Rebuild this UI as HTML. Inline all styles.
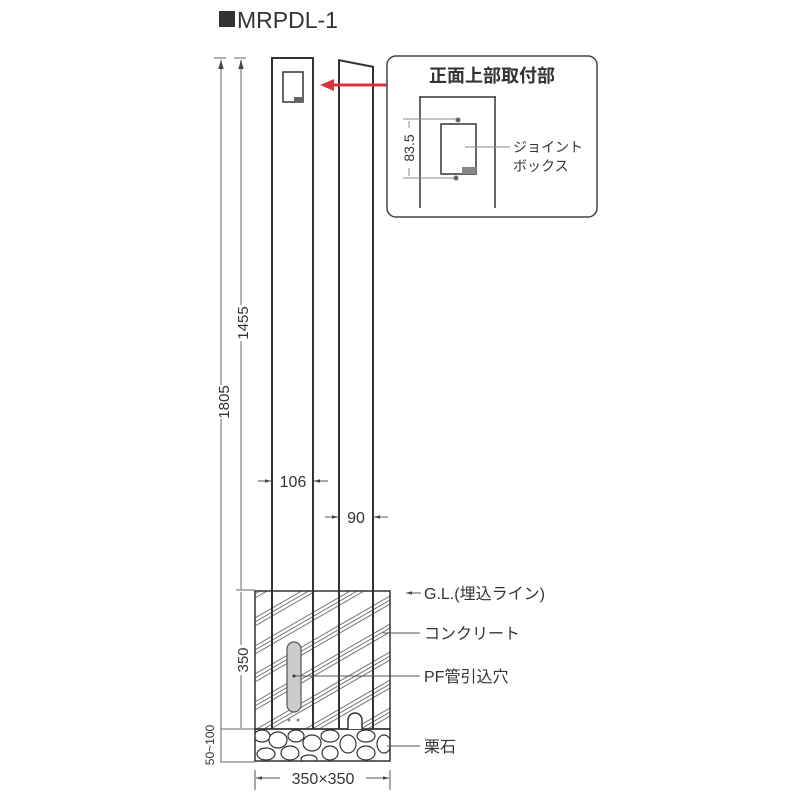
<!DOCTYPE html>
<html><head><meta charset="utf-8"><style>
html,body{margin:0;padding:0;background:#fff;}
svg{display:block;}
text{font-family:"Liberation Sans","Noto Sans CJK JP",sans-serif;fill:#333;}
</style></head><body>
<svg width="800" height="800" viewBox="0 0 800 800" xmlns="http://www.w3.org/2000/svg">
<defs>
<clipPath id="blk"><rect x="255" y="591" width="135" height="138"/></clipPath>
<clipPath id="grv"><rect x="255" y="729" width="135" height="32"/></clipPath>
<marker id="ar" viewBox="0 0 10 10" refX="10" refY="5" markerWidth="6" markerHeight="6" orient="auto-start-reverse"><path d="M0,2 L10,5 L0,8 z" fill="#444"/></marker>
</defs>
<rect x="219" y="11" width="16" height="16" fill="#333"/>
<text x="237" y="28" font-size="23" fill="#333">MRPDL-1</text>
<g stroke="#999" stroke-width="1.5" fill="none">
<line x1="221" y1="60" x2="221" y2="762" marker-start="url(#ar)"/>
<line x1="241" y1="60" x2="241" y2="590" marker-start="url(#ar)"/>
<line x1="241" y1="592" x2="241" y2="728"/>
<line x1="215" y1="729" x2="255" y2="729"/>
<line x1="215" y1="762" x2="255" y2="762"/>
<line x1="236" y1="590" x2="255" y2="590"/>
<line x1="214" y1="58" x2="226" y2="58"/>
<line x1="234" y1="58" x2="246" y2="58"/>
</g>
<rect x="214" y="385" width="16" height="34" fill="#fff"/>
<text transform="translate(229,402) rotate(-90)" font-size="15" text-anchor="middle">1805</text>
<rect x="234" y="305" width="16" height="36" fill="#fff"/>
<text transform="translate(248,323) rotate(-90)" font-size="15" text-anchor="middle">1455</text>
<rect x="234" y="645" width="16" height="30" fill="#fff"/>
<text transform="translate(248,660) rotate(-90)" font-size="15" text-anchor="middle">350</text>
<rect x="200" y="718" width="20" height="56" fill="#fff"/>
<text transform="translate(214,745) rotate(-90)" font-size="12" text-anchor="middle">50~100</text>
<g clip-path="url(#blk)" stroke="#777" stroke-width="1" fill="none">
<path d="M255,590 L390,512 M255,594 L390,516 M255,598 L390,520
M255,618 L390,540 M255,622 L390,544 M255,626 L390,548
M255,646 L390,568 M255,650 L390,572 M255,654 L390,576
M255,674 L390,596 M255,678 L390,600 M255,682 L390,604
M255,702 L390,624 M255,706 L390,628 M255,710 L390,632
M255,730 L390,652 M255,734 L390,656 M255,738 L390,660
M255,758 L390,680 M255,762 L390,684 M255,766 L390,688
M255,786 L390,708 M255,790 L390,712 M255,794 L390,716
M255,814 L390,736 M255,818 L390,740"/>
</g>
<rect x="255" y="591" width="135" height="138" fill="none" stroke="#333" stroke-width="1.5"/>
<g clip-path="url(#grv)" stroke="#333" stroke-width="1.2" fill="#fff">
<ellipse cx="262" cy="736" rx="8" ry="6"/><ellipse cx="278" cy="740" rx="9" ry="8"/><ellipse cx="266" cy="754" rx="9" ry="6"/>
<ellipse cx="296" cy="736" rx="8" ry="6"/><ellipse cx="290" cy="753" rx="9" ry="7"/><ellipse cx="312" cy="743" rx="9" ry="8"/>
<ellipse cx="330" cy="736" rx="9" ry="6"/><ellipse cx="330" cy="753" rx="8" ry="7"/><ellipse cx="348" cy="744" rx="8" ry="9"/>
<ellipse cx="366" cy="736" rx="9" ry="6"/><ellipse cx="366" cy="753" rx="9" ry="7"/><ellipse cx="384" cy="744" rx="7" ry="9"/>
<ellipse cx="309" cy="759" rx="8" ry="4"/>
</g>
<rect x="255" y="729" width="135" height="32" fill="none" stroke="#333" stroke-width="1.5"/>
<g stroke="#333" stroke-width="2" fill="none">
<line x1="272" y1="58" x2="272" y2="729"/><line x1="313" y1="58" x2="313" y2="729"/><line x1="271" y1="58" x2="314" y2="58"/>
<line x1="339" y1="60" x2="339" y2="729"/><line x1="373" y1="67" x2="373" y2="729"/><line x1="338" y1="60" x2="374" y2="67"/>
</g>
<rect x="283" y="72" width="20" height="30" fill="#fff" stroke="#333" stroke-width="1.5"/>
<rect x="294" y="97" width="9" height="5" fill="#666"/>
<rect x="287" y="642" width="14" height="70" rx="7" fill="#ccc" stroke="#555" stroke-width="1.2"/>
<circle cx="289" cy="720" r="1.5" fill="#888"/><circle cx="298" cy="720" r="1.5" fill="#888"/>
<path d="M348,729 V720 a7,7 0 0 1 14,0 V729" fill="#fff" stroke="#333" stroke-width="1.5"/>
<line x1="387" y1="85" x2="330" y2="85" stroke="#d9323a" stroke-width="3"/>
<path d="M320,85 L334,79 L334,91 z" fill="#d9323a"/>
<rect x="387" y="56" width="210" height="161" rx="9" fill="#fff" stroke="#444" stroke-width="1.5"/>
<text x="492" y="82" font-size="18" font-weight="bold" text-anchor="middle" fill="#222">正面上部取付部</text>
<g stroke="#333" stroke-width="1.5" fill="none">
<line x1="420" y1="97" x2="420" y2="208"/><line x1="495" y1="97" x2="495" y2="208"/><line x1="419" y1="97" x2="496" y2="97"/>
<rect x="441" y="124" width="35" height="50" fill="#fff"/>
</g>
<rect x="462" y="167" width="14" height="7" fill="#888"/>
<circle cx="458" cy="120" r="2.5" fill="#666"/><circle cx="456" cy="178" r="2.5" fill="#666"/>
<g stroke="#888" stroke-width="1">
<line x1="403" y1="119" x2="456" y2="119"/><line x1="403" y1="178" x2="454" y2="178"/>
<line x1="409" y1="121" x2="409" y2="176"/>
<line x1="465" y1="147" x2="510" y2="147"/>
</g>
<rect x="402" y="128" width="14" height="40" fill="#fff"/>
<text transform="translate(414,148) rotate(-90)" font-size="14" text-anchor="middle">83.5</text>
<text x="513" y="152" font-size="14" fill="#555">ジョイント</text>
<text x="513" y="171" font-size="14" fill="#555">ボックス</text>
<g stroke="#555" stroke-width="1">
<line x1="258" y1="481" x2="271" y2="481" marker-end="url(#ar)"/>
<line x1="328" y1="481" x2="314" y2="481" marker-end="url(#ar)"/>
<line x1="325" y1="517" x2="338" y2="517" marker-end="url(#ar)"/>
<line x1="388" y1="517" x2="374" y2="517" marker-end="url(#ar)"/>
</g>
<text x="293" y="487" font-size="16" text-anchor="middle">106</text>
<text x="356" y="523" font-size="16" text-anchor="middle">90</text>
<g stroke="#555" stroke-width="1">
<line x1="406" y1="593" x2="421" y2="593" marker-start="url(#ar)"/>
<line x1="383" y1="633" x2="420" y2="633"/>
<line x1="294" y1="676" x2="420" y2="676"/>
<line x1="387" y1="746" x2="420" y2="746"/>
<line x1="255" y1="770" x2="255" y2="790"/><line x1="390" y1="770" x2="390" y2="790"/>
<line x1="256" y1="778" x2="280" y2="778" marker-start="url(#ar)"/>
<line x1="366" y1="778" x2="389" y2="778" marker-end="url(#ar)"/>
</g>
<circle cx="294" cy="676" r="1.5" fill="#333"/>
<text x="424" y="599" font-size="16">G.L.(埋込ライン)</text>
<text x="424" y="639" font-size="16">コンクリート</text>
<text x="424" y="682" font-size="16">PF管引込穴</text>
<text x="424" y="752" font-size="16">栗石</text>
<text x="323" y="784" font-size="16" text-anchor="middle">350×350</text>
</svg>
</body></html>
